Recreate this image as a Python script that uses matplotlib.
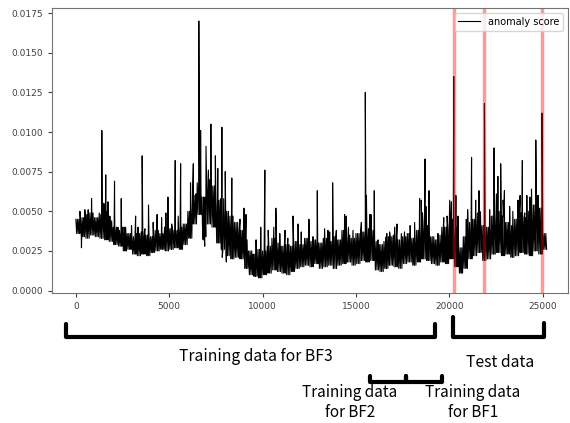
import numpy as np
import matplotlib
matplotlib.use("Agg")
from matplotlib import pyplot as plt
from matplotlib import transforms

# noise band of the anomaly score, one (low, high) pair per 250 samples, in units of 1e-3
band_low = [3.6, 3.4, 3.3, 3.5, 3.4, 3.3, 3.2, 3.1, 2.9, 2.8,
            2.5, 2.6, 2.3, 2.2, 2.3, 2.2, 2.4, 2.5, 2.6, 2.5,
            2.6, 2.7, 2.6, 2.9, 3.3, 4.2, 4.8, 3.4, 4.2, 4.0,
            3.0, 2.6, 2.2, 2.0, 2.1, 2.0, 1.4, 1.0, 0.9, 0.8,
            1.0, 1.1, 1.3, 1.2, 1.1, 1.0, 1.2, 1.4, 1.5, 1.6,
            1.5, 1.7, 1.4, 1.5, 1.6, 1.4, 1.6, 1.7, 1.8, 1.6,
            1.7, 1.9, 1.8, 1.9, 1.3, 1.2, 1.4, 1.6, 1.5, 1.4,
            1.7, 1.8, 1.6, 1.8, 2.0, 1.9, 1.7, 1.6, 1.8, 1.7,
            2.0, 1.5, 1.1, 1.4, 2.0, 2.2, 2.4, 1.9, 2.0, 2.3,
            2.4, 2.2, 2.3, 2.1, 2.2, 2.4, 2.3, 2.2, 2.5, 2.3,
            2.6]
band_high = [4.5, 4.6, 4.8, 4.9, 4.6, 4.8, 5.0, 4.4, 4.0, 3.8,
             4.0, 3.6, 3.4, 3.6, 3.7, 3.5, 3.4, 3.8, 3.6, 4.0,
             3.9, 3.8, 4.0, 4.2, 5.0, 6.0, 6.8, 5.9, 7.0, 6.6,
             5.7, 5.8, 5.0, 4.7, 4.3, 3.8, 3.2, 2.5, 2.3, 2.6,
             2.5, 2.8, 3.3, 3.0, 2.8, 2.9, 2.8, 3.1, 2.9, 3.3,
             3.1, 3.2, 3.0, 3.3, 3.1, 3.4, 3.2, 3.8, 3.5, 3.3,
             3.6, 3.7, 3.9, 3.8, 3.1, 2.9, 3.1, 3.4, 3.5, 3.2,
             3.4, 3.6, 3.3, 3.8, 4.3, 4.1, 3.4, 3.2, 3.5, 4.0,
             4.5, 4.0, 2.7, 3.4, 4.3, 4.5, 4.9, 4.1, 4.0, 4.7,
             5.0, 4.7, 4.3, 4.1, 4.5, 4.9, 4.6, 5.0, 5.4, 5.2,
             3.6]
bin_size = 250

# tall isolated spikes: sample index and value (1e-3)
spike_idx = [840, 1390, 1600, 1720, 2070, 2430, 3200, 3550, 3890, 4350,
             4930, 5320, 5610, 6290, 6585, 6680, 6970, 7100, 7230, 7470,
             7600, 7820, 8000, 8350, 9000, 9650, 9900, 10120, 10600, 10710,
             11200, 11630, 11900, 12480, 12930, 13500, 13750, 14390, 14600, 15500,
             15560, 15800, 15980, 16650, 17200, 17600, 17900, 18410, 18560, 18700,
             18910, 19600, 19880, 20020, 20236, 20350, 20980, 21190, 21590, 21879,
             22390, 22600, 22750, 22950, 23400, 23790, 23910, 24150, 24400, 24630,
             24750, 24962]
spike_val = [5.8, 10.1, 7.3, 5.6, 6.9, 5.8, 4.7, 8.5, 5.4, 4.8,
             5.9, 8.2, 8.0, 8.0, 17.0, 10.1, 9.1, 7.6, 10.5, 8.5,
             7.7, 10.3, 7.5, 7.1, 5.2, 3.2, 4.0, 7.6, 4.0, 5.2,
             3.8, 4.7, 4.2, 4.5, 6.3, 3.8, 6.8, 4.8, 4.0, 12.5,
             6.0, 4.8, 6.3, 3.6, 4.2, 3.7, 4.1, 5.8, 4.9, 8.3,
             6.3, 4.0, 4.7, 5.7, 13.5, 6.0, 5.1, 8.4, 6.3, 11.8,
             9.0, 7.2, 8.0, 6.3, 5.0, 6.0, 8.2, 6.0, 6.4, 9.5,
             6.0, 11.2]

# smaller peaks and dips around the band (1e-3)
bump_idx = [215, 300, 480, 660, 1250, 1500, 1820, 2250, 2610, 2980,
            3330, 3700, 4140, 4590, 4820, 5130, 5480, 5840, 6140, 6430,
            6820, 6900, 7840, 8060, 8790, 9110, 9330, 9520, 9780, 10300,
            10920, 11350, 12070, 12700, 13320, 13590, 13950, 14480, 14840, 15290,
            15730, 16180, 16620, 16800, 17070, 17430, 18140, 18500, 18770, 19390,
            19700, 20110, 20460, 20640, 20910, 21410, 21630, 22160, 22520, 22880,
            23230, 23680, 24040, 24310, 24750]
bump_val = [5.0, 2.7, 5.1, 5.1, 4.9, 5.5, 4.7, 4.0, 3.8, 4.1,
            4.0, 3.9, 4.3, 4.6, 4.9, 4.2, 4.7, 4.0, 6.8, 6.1,
            3.2, 2.8, 2.1, 1.8, 4.5, 4.8, 2.4, 1.1, 0.9, 3.8,
            3.6, 3.3, 3.7, 3.4, 3.9, 3.7, 3.8, 4.7, 3.8, 4.3,
            4.8, 3.2, 3.4, 3.7, 4.0, 3.6, 4.3, 5.7, 5.3, 3.6,
            4.6, 5.6, 4.7, 1.1, 4.5, 5.7, 5.0, 5.1, 6.1, 5.7,
            5.3, 5.7, 4.9, 5.9, 5.7]

# labelled anomalies (red lines)
anomaly_idx = [20236, 21879, 24962]

# brackets under the axis: (start, end) in sample index
bf3_span = (-535, 19250)
test_span = (20180, 25050)
bf2_span = (15740, 17670)
bf1_span = (17670, 19590)

# build the plotted series: dense zigzag through each band, then merge spikes and bumps
cycles = 3
xs, ys = [], []
for i, (lo, hi) in enumerate(zip(band_low, band_high)):
    step = bin_size / (2 * cycles)
    for k in range(cycles):
        xs += [i * bin_size + 2 * k * step, i * bin_size + (2 * k + 1) * step]
        ys += [hi, lo]
xs += spike_idx + bump_idx
ys += spike_val + bump_val
order = np.argsort(xs, kind="stable")
x = np.array(xs, dtype=float)[order]
y = np.array(ys)[order] * 1e-3

fig = plt.figure(figsize=(5.7, 4.23), dpi=100)
ax = fig.add_axes([0.091, 0.307, 0.905, 0.674])
ax.plot(x, y, color="black", lw=0.8, label="anomaly score")
for a in anomaly_idx:
    ax.axvline(a, color="red", alpha=0.4, lw=2.5)

ax.set_xlim(-1285, 26340)
ax.set_ylim(-0.00016, 0.01782)
ax.set_xticks([0, 5000, 10000, 15000, 20000, 25000])
ax.set_yticks(np.arange(0, 0.0176, 0.0025))
ax.yaxis.set_major_formatter(matplotlib.ticker.FormatStrFormatter("%.4f"))
ax.tick_params(labelsize=6.5, colors="0.25", length=3, width=0.8)
for s in ax.spines.values():
    s.set_color("0.45")
ax.legend(loc="upper right", fontsize=7, handlelength=2.2)

# brackets and captions below the axis (x in data, y in figure fraction)
trans = transforms.blended_transform_factory(ax.transData, fig.transFigure)
bk = dict(color="black", lw=3, transform=trans, clip_on=False,
          solid_joinstyle="round", solid_capstyle="round")
ax.plot([bf3_span[0], bf3_span[0], bf3_span[1], bf3_span[1]], [0.234, 0.204, 0.204, 0.234], **bk)
ax.plot([test_span[0], test_span[0], test_span[1], test_span[1]], [0.251, 0.204, 0.204, 0.237], **bk)
ax.plot([bf2_span[0], bf2_span[0], bf2_span[1], bf2_span[1]], [0.111, 0.097, 0.097, 0.111], **bk)
ax.plot([bf1_span[0], bf1_span[0], bf1_span[1], bf1_span[1]], [0.111, 0.097, 0.097, 0.111], **bk)

txt = dict(transform=trans, ha="center", va="center", fontsize=11.3,
           family=["Noto Sans CJK JP", "DejaVu Sans"], color="black")
ax.text(9636, 0.157, "Training data for BF3", **txt)
ax.text(22700, 0.144, "Test data", **txt)
sub = dict(txt, fontsize=11, linespacing=1.2)
ax.text(14670, 0.048, "Training data\nfor BF2", **sub)
ax.text(21250, 0.048, "Training data\nfor BF1", **sub)

fig.savefig("out.png", dpi=100)
